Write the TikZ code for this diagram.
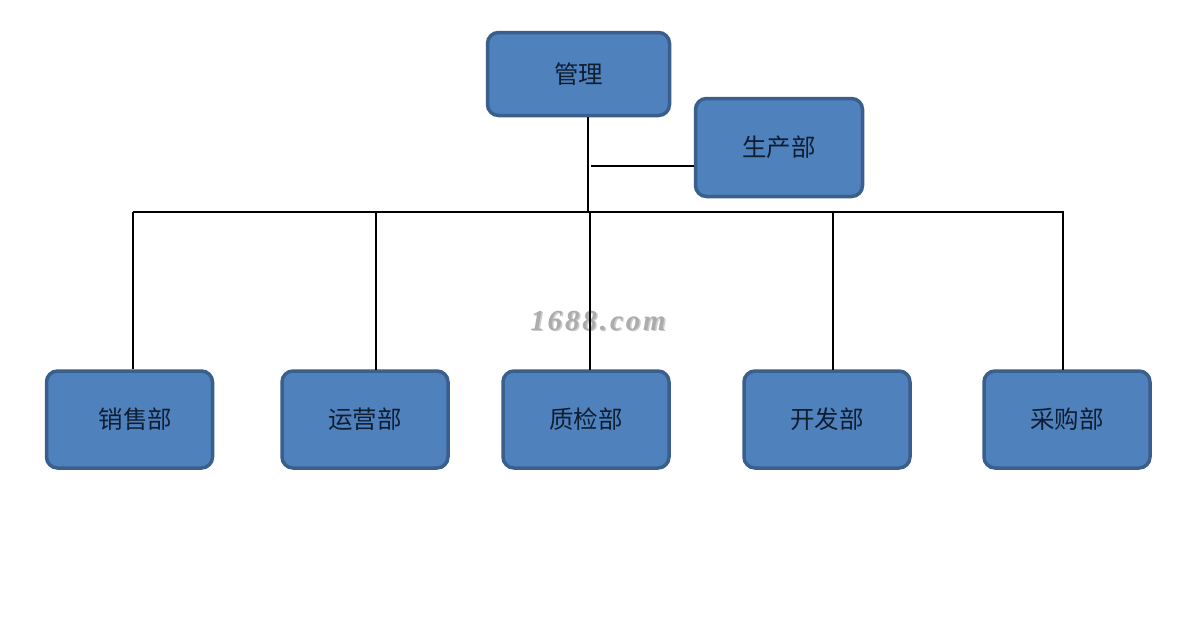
\documentclass[tikz,border=0pt]{standalone}
\usepackage{fontspec}
\newfontfamily\cjk{Noto Sans CJK SC}
\newfontfamily\wm[LetterSpace=10]{Liberation Serif}
\definecolor{boxfill}{HTML}{4F81BD}
\definecolor{boxline}{HTML}{3A5F8C}
\definecolor{boxtext}{HTML}{101E32}
\begin{document}
\begin{tikzpicture}[x=1pt,y=-1pt,
  dept/.style={draw=boxline, line width=3.5pt, fill=boxfill, rounded corners=11pt,
    minimum width=166pt, minimum height=97pt, inner sep=0pt,
    font=\cjk\fontsize{24.5}{27}\selectfont, text=boxtext},
  link/.style={line width=2pt, black}]
\useasboundingbox[fill=white] (0,0) rectangle (1197,637);
% watermark
\node[font=\wm\bfseries\itshape\fontsize{29}{30}\selectfont, text=gray!40] at (599.5,322.5) {1688.com};
\node[font=\wm\bfseries\itshape\fontsize{29}{30}\selectfont, text=gray!65] at (598,321) {1688.com};
% boxes
\node[dept, minimum width=182pt, minimum height=83pt] (gl) at (578.5,74) {管理};
\node[dept, minimum width=167pt, minimum height=98pt] (sc) at (779,147.5) {生产部};
\node[dept] (xs) at (129.5,419.5) {\hspace*{12pt}销售部};
\node[dept] (yy) at (365,419.5) {运营部};
\node[dept] (zj) at (586,419.5) {质检部};
\node[dept] (kf) at (827,419.5) {开发部};
\node[dept] (cg) at (1067,419.5) {采购部};
% connectors
\coordinate (busL) at (133,212);
\coordinate (busR) at (1064,212);
\coordinate (busM) at (588,212);
\coordinate (br) at (591,166);
\draw[link] (busL) -- (busR);
\draw[link] (gl.south -| busM) -- (busM);
\draw[link] (br) -- (br -| sc.west);
\draw[link] (busL) -- (busL |- xs.north);
\draw[link] (376,212) -- (376,370);
\draw[link] (590,212) -- (590,370);
\draw[link] (833,212) -- (833,370);
\draw[link] (1063,212) -- (1063,370);
\end{tikzpicture}
\end{document}
